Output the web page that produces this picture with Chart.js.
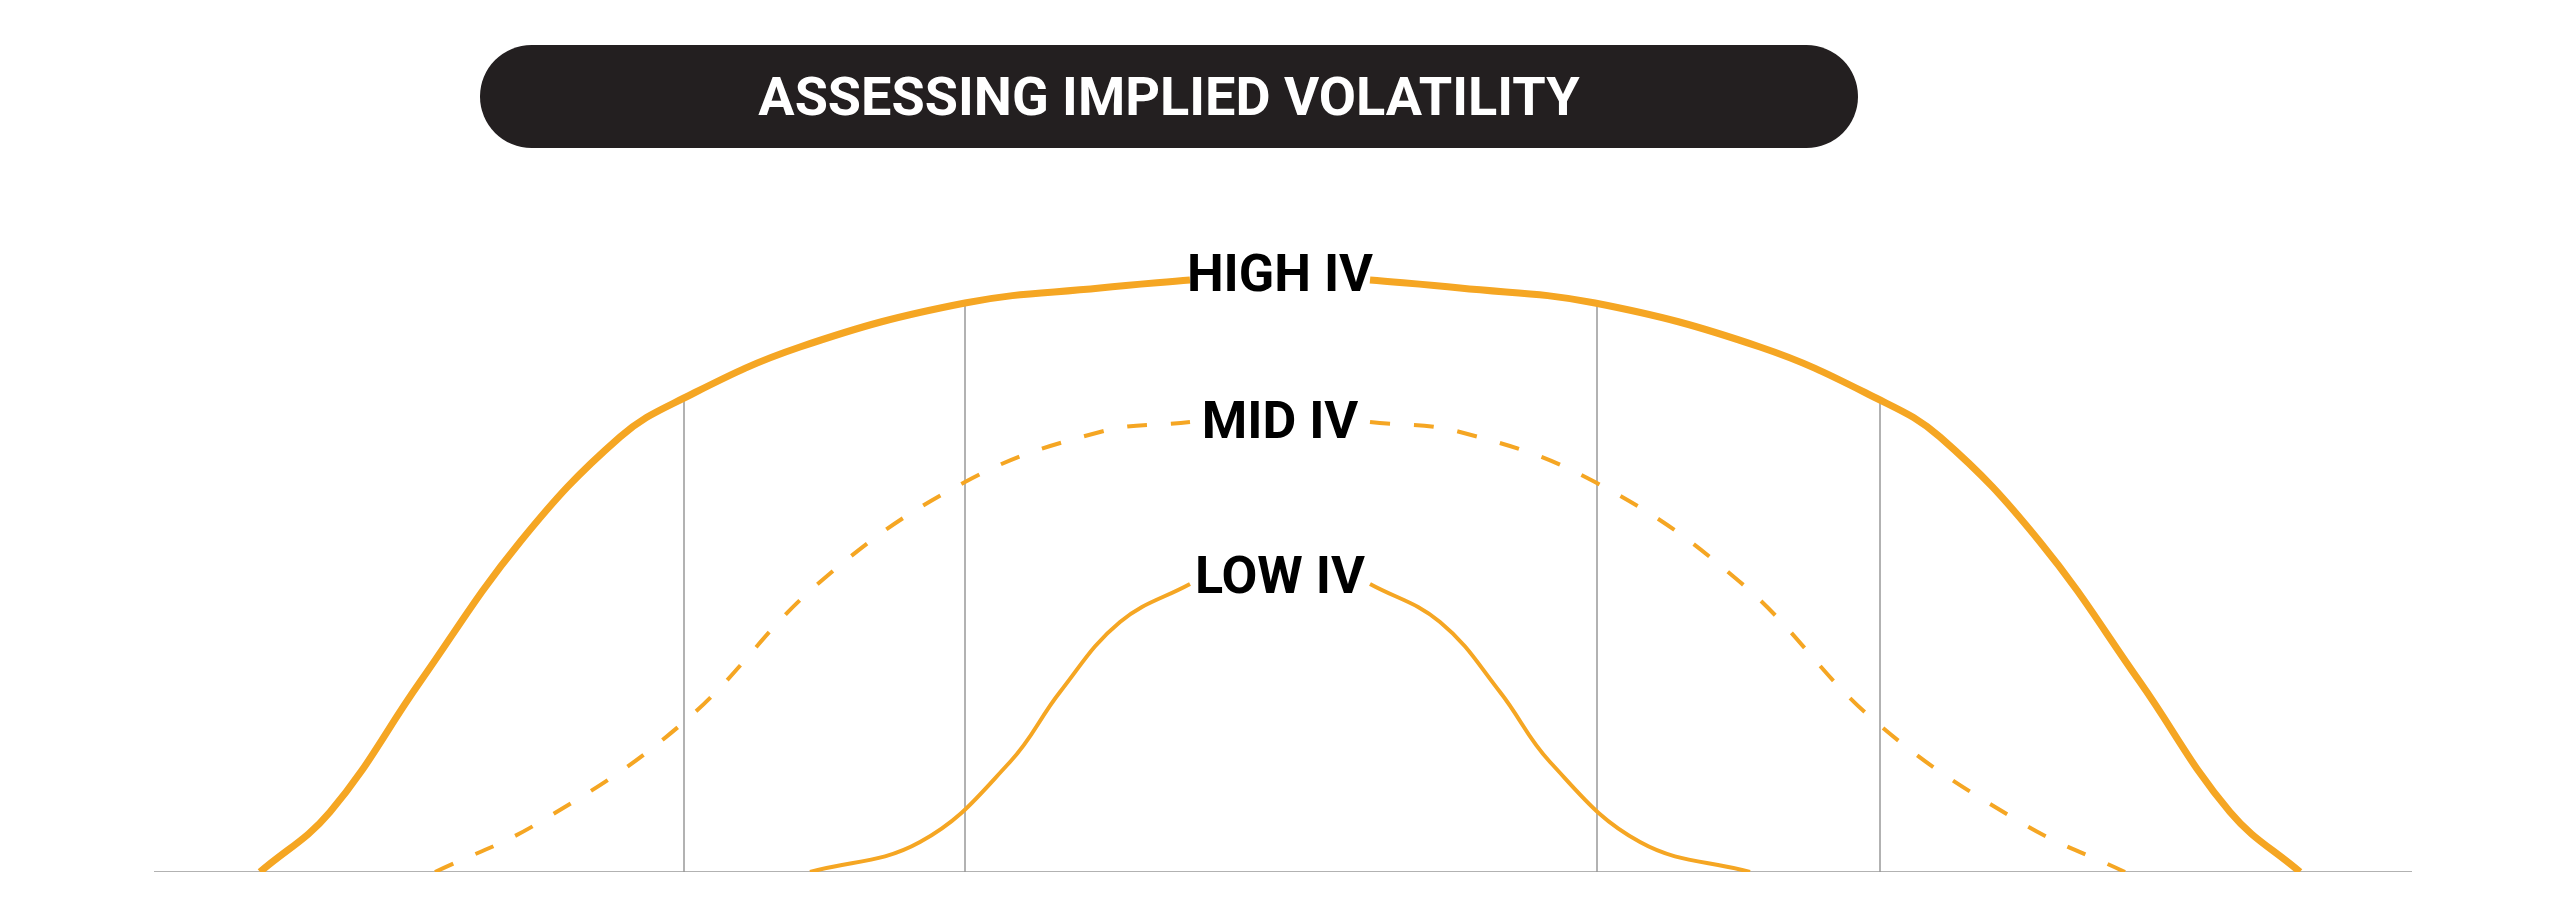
<!DOCTYPE html>
<html>
<head>
    <title>Assessing Implied Volatility</title>
    <meta charset="UTF-8">
    <style>
        body { margin: 0; background: #fff; overflow: hidden; }
        .pill {
            position: absolute; left: 480px; top: 45px; width: 1378px; height: 103px;
            background: #231f20; border-radius: 52px; color: #fff;
            font: bold 54px Roboto, sans-serif; display: flex; align-items: center; justify-content: center;
        }
        canvas { position: absolute; left: 0; top: 0; }
    </style>
    <script src="https://cdn.jsdelivr.net/npm/chart.js"></script>
    <script>
        // x in horizontal positions along the axis, y = height above baseline
        const highX = [260, 330, 420, 520, 620, 684, 800, 965, 1100, 1190, 1280, 1370, 1460, 1595, 1760, 1876, 1940, 2040, 2140, 2230, 2300];
        const highY = [0, 60, 190, 330, 435, 474, 525, 569, 584, 592, null, 592, 584, 569, 525, 474, 435, 330, 190, 60, 0];
        const midX = [435, 540, 684, 820, 965, 1100, 1190, 1280, 1370, 1460, 1595, 1740, 1876, 2020, 2125];
        const midY = [0, 50, 150, 290, 390, 440, 450, null, 450, 440, 390, 290, 150, 50, 0];
        const lowX = [810, 920, 1010, 1060, 1120, 1190, 1280, 1370, 1440, 1500, 1550, 1640, 1750];
        const lowY = [0, 30, 110, 180, 250, 288, null, 288, 250, 180, 110, 30, 0];
        const gridX = [684, 965, 1597, 1880];
        const gridTop = [474, 569, 569, 474];
        const labels = [['HIGH IV', 594], ['MID IV', 447], ['LOW IV', 292]];

        const pts = (xs, ys) => xs.map((x, i) => ({ x: x, y: ys[i] }));
        const orange = '#f5a623';

        window.onload = function () {
            const datasets = [
                { data: pts(highX, highY), borderColor: orange, borderWidth: 7, tension: 0.4 },
                { data: pts(midX, midY), borderColor: orange, borderWidth: 4, borderDash: [20, 24], tension: 0.4 },
                { data: pts(lowX, lowY), borderColor: orange, borderWidth: 4, tension: 0.4 },
                { data: [{ x: 154, y: 0 }, { x: 2412, y: 0 }], borderColor: '#999', borderWidth: 1.5 }
            ];
            gridX.forEach((x, i) => datasets.push({ data: [{ x: x, y: 0 }, { x: x, y: gridTop[i] }], borderColor: '#999', borderWidth: 1.5 }));

            const labelPlugin = {
                id: 'ivLabels',
                afterDatasetsDraw(chart) {
                    const c = chart.ctx;
                    c.save();
                    c.font = 'bold 52px Roboto, sans-serif';
                    c.fillStyle = '#000';
                    c.textAlign = 'center';
                    c.textBaseline = 'middle';
                    labels.forEach(l => c.fillText(l[0], chart.scales.x.getPixelForValue(1280), chart.scales.y.getPixelForValue(l[1])));
                    c.restore();
                }
            };

            new Chart(document.getElementById('c'), {
                type: 'line',
                data: { datasets: datasets },
                plugins: [labelPlugin],
                options: {
                    responsive: false, animation: false, spanGaps: false,
                    elements: { point: { radius: 0 } },
                    layout: { padding: { left: 154, right: 148, top: 172, bottom: 50 } },
                    plugins: { legend: { display: false }, tooltip: { enabled: false } },
                    scales: {
                        x: { type: 'linear', min: 154, max: 2412, display: false },
                        y: { min: 0, max: 700, display: false }
                    }
                }
            });
        };
    </script>
</head>
<body>
<canvas id="c" width="2560" height="922"></canvas>
<div class="pill">ASSESSING IMPLIED VOLATILITY</div>
</body>
</html>
